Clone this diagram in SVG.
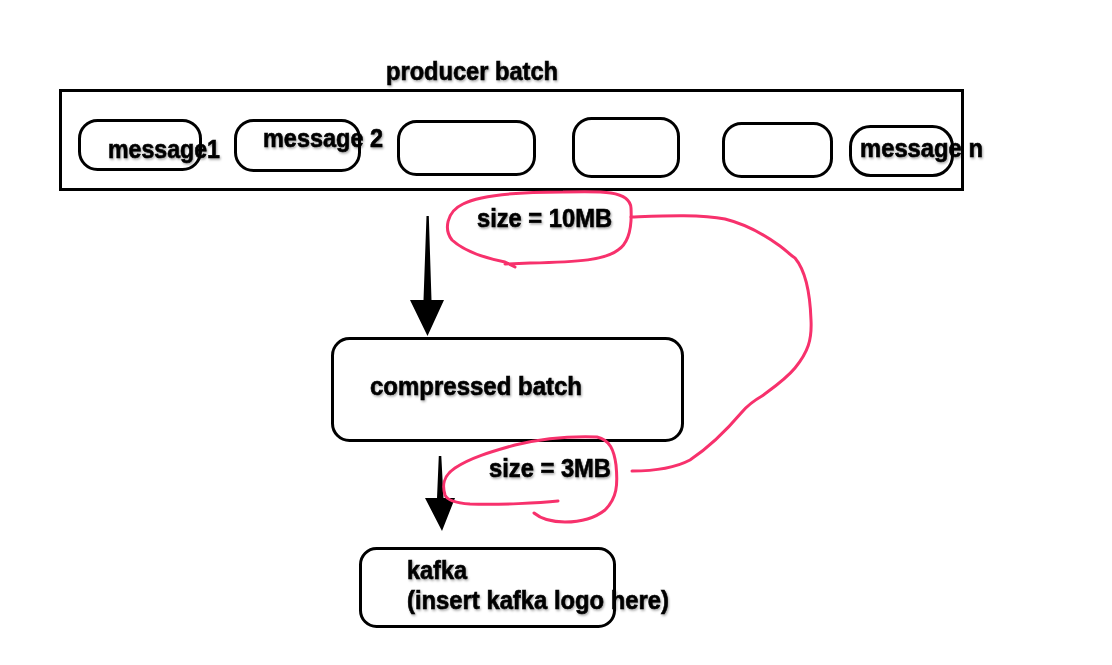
<svg xmlns="http://www.w3.org/2000/svg" width="1112" height="665" viewBox="0 0 1112 665">
<defs>
<filter id="sh" x="-10%" y="-30%" width="120%" height="160%">
<feDropShadow dx="1" dy="1.5" stdDeviation="1.2" flood-color="#000" flood-opacity="0.35"/>
</filter>
<style>
.t{font-family:"Liberation Sans",Arial,Helvetica,sans-serif;font-weight:bold;font-size:25px;fill:#000;stroke:#000;stroke-width:0.6;filter:url(#sh)}
.box{fill:#fff;stroke:#000;stroke-width:3}
.pill{fill:none;stroke:#000;stroke-width:3}
.pink{fill:none;stroke:#f7316c;stroke-width:3;stroke-linecap:round;stroke-linejoin:round}
</style>
</defs>
<rect width="1112" height="665" fill="#fff"/>
<g id="producer-batch">
<rect class="box" x="60.5" y="90.5" width="902" height="99"/>
<text class="t" x="386" y="80" textLength="172" lengthAdjust="spacingAndGlyphs">producer batch</text>
</g>
<g id="message1">
<rect class="pill" x="79.5" y="120.5" width="121" height="49" rx="18"/>
<text class="t" x="108" y="158" textLength="112" lengthAdjust="spacingAndGlyphs">message1</text>
</g>
<g id="message2">
<rect class="pill" x="235.5" y="120.5" width="124" height="50" rx="18"/>
<text class="t" x="263" y="147" textLength="120" lengthAdjust="spacingAndGlyphs">message 2</text>
</g>
<g id="message3">
<rect class="pill" x="398.5" y="121.5" width="136" height="53" rx="18"/>
</g>
<g id="message4">
<rect class="pill" x="573.5" y="118.5" width="105" height="58" rx="18"/>
</g>
<g id="message5">
<rect class="pill" x="723.5" y="123.5" width="108" height="53" rx="18"/>
</g>
<g id="messagen">
<rect class="pill" x="850.5" y="126.5" width="102" height="49" rx="20"/>
<text class="t" x="860" y="157" textLength="123" lengthAdjust="spacingAndGlyphs">message n</text>
</g>
<g id="compressed-batch">
<rect class="box" x="332.5" y="338.5" width="350" height="102" rx="17"/>
<text class="t" x="370" y="395" textLength="212" lengthAdjust="spacingAndGlyphs">compressed batch</text>
</g>
<g id="kafka">
<rect class="box" x="360.5" y="548.5" width="254" height="78" rx="16"/>
<text class="t" x="407" y="579" textLength="60" lengthAdjust="spacingAndGlyphs">kafka</text>
<text class="t" x="407" y="609" textLength="262" lengthAdjust="spacingAndGlyphs">(insert kafka logo here)</text>
</g>
<g id="connectors">
<polygon points="426.5,216 428.8,216 431.5,300 444,300 427.5,336 410,300 423.5,300" fill="#000"/>
<polygon points="438.8,456 441.3,456 443.5,498 455,498 442,531 425,498 437,498" fill="#000"/>
</g>
<g id="annotations">
<text class="t" x="477" y="227" textLength="135" lengthAdjust="spacingAndGlyphs">size = 10MB</text>
<path class="pink" d="M515,267 L505,262 C490,259 465,252 452,240 C444,230 446,212 463,204 C480,195 520,192 563,192 C600,191 630,190 631,208 C632,226 630,242 618,250 C605,260 580,262 530,263 L505,264"/>
<path class="pink" d="M631,217 C660,216 700,214 725,219 C745,224 765,235 780,246 C788,252 790,255 795,258 C805,270 810,290 811,320 C812,340 808,352 795,368 C785,380 770,390 762,396 C755,400 748,405 742,412 C725,432 705,450 690,460 C675,468 655,471 632,471"/>
<text class="t" x="489" y="477" textLength="122" lengthAdjust="spacingAndGlyphs">size = 3MB</text>
<path class="pink" d="M558,501 C540,503 500,505 470,504 C455,503 447,500 445,495 C442,485 443,476 455,468 C470,458 490,452 515,445 C540,439 570,436 597,437 C610,440 614,450 616,465 C618,485 617,498 605,510 C595,518 580,522 565,522 C550,522 540,518 534,513"/>
</g>
</svg>
